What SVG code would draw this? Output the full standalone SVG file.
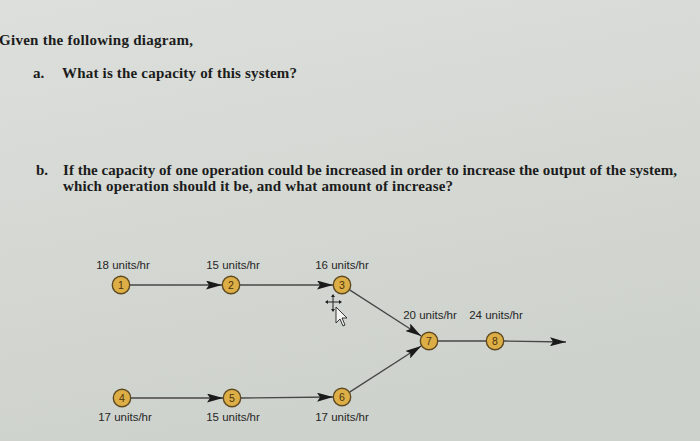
<svg xmlns="http://www.w3.org/2000/svg" width="700" height="441" viewBox="0 0 700 441">
<defs>
<linearGradient id="bg" x1="0" y1="0" x2="0.3" y2="1">
<stop offset="0" stop-color="#dcdfdb"/>
<stop offset="1" stop-color="#ced2cc"/>
</linearGradient>
<marker id="ah" viewBox="0 0 16 9" refX="16" refY="4.5" markerWidth="16" markerHeight="9" markerUnits="userSpaceOnUse" orient="auto">
<path d="M0,0 L16,4.5 L0,9 L3,4.5 z" fill="#1a1a1a"/>
</marker>
<style>
.q{font-family:"Liberation Serif","Times New Roman",serif;font-weight:bold;font-size:15px;fill:#1c1c1c}
.lbl{font-family:"Liberation Sans",Arial,sans-serif;font-size:11.5px;fill:#262626;text-anchor:middle}
.num{font-family:"Liberation Sans",Arial,sans-serif;font-size:10.5px;fill:#4a3510;text-anchor:middle}
.nd{fill:#dcae45;stroke:#5e4a22;stroke-width:1.4}
.ed{stroke:#474745;stroke-width:1.3;fill:none}
.ar{marker-end:url(#ah)}
</style>
</defs>
<rect width="700" height="441" fill="url(#bg)"/>
<g id="question">
<text class="q" x="-1" y="45" textLength="194" lengthAdjust="spacing">Given the following diagram,</text>
<text class="q" x="33" y="78">a.</text>
<text class="q" x="62" y="78" textLength="235" lengthAdjust="spacing">What is the capacity of this system?</text>
<text class="q" x="36" y="175">b.</text>
<text class="q" x="63" y="175" textLength="614" lengthAdjust="spacing">If the capacity of one operation could be increased in order to increase the output of the system,</text>
<text class="q" x="63" y="191" textLength="390" lengthAdjust="spacing">which operation should it be, and what amount of increase?</text>
</g>
<g id="connectors">
<line class="ed ar" x1="130" y1="285" x2="222" y2="285"/>
<line class="ed ar" x1="240" y1="285" x2="333" y2="285"/>
<line class="ed ar" x1="349.6" y1="289.9" x2="421.2" y2="336"/>
<line class="ed ar" x1="131" y1="398" x2="223" y2="398"/>
<line class="ed ar" x1="241" y1="398" x2="333" y2="397"/>
<line class="ed ar" x1="349.6" y1="392.1" x2="421.2" y2="346"/>
<line class="ed" x1="438" y1="341" x2="486" y2="341"/>
<line class="ed ar" x1="504" y1="341" x2="566" y2="342"/>
</g>
<g id="n1"><circle class="nd" cx="121" cy="285" r="8.7"/><text class="num" x="121" y="288.8">1</text></g>
<g id="n2"><circle class="nd" cx="231" cy="285" r="8.7"/><text class="num" x="231" y="288.8">2</text></g>
<g id="n3"><circle class="nd" cx="342" cy="285" r="8.7"/><text class="num" x="342" y="288.8">3</text></g>
<g id="n4"><circle class="nd" cx="122" cy="398" r="8.7"/><text class="num" x="122" y="401.8">4</text></g>
<g id="n5"><circle class="nd" cx="232" cy="398" r="8.7"/><text class="num" x="232" y="401.8">5</text></g>
<g id="n6"><circle class="nd" cx="342" cy="397" r="8.7"/><text class="num" x="342" y="400.8">6</text></g>
<g id="n7"><circle class="nd" cx="429" cy="341" r="8.7"/><text class="num" x="429" y="344.8">7</text></g>
<g id="n8"><circle class="nd" cx="495" cy="341" r="8.7"/><text class="num" x="495" y="344.8">8</text></g>
<g id="labels">
<text class="lbl" x="123" y="269">18 units/hr</text>
<text class="lbl" x="233" y="269">15 units/hr</text>
<text class="lbl" x="342" y="269">16 units/hr</text>
<text class="lbl" x="430" y="319">20 units/hr</text>
<text class="lbl" x="496" y="319">24 units/hr</text>
<text class="lbl" x="125" y="421">17 units/hr</text>
<text class="lbl" x="233" y="421">15 units/hr</text>
<text class="lbl" x="342" y="421">17 units/hr</text>
</g>
<g id="cursor">
<path d="M333,295 V311 M326,302 H341" stroke="#222" stroke-width="1"/>
<path d="M333,294 l-2,3 h4 z M333,312 l-2,-3 h4 z M325,302 l3,-2 v4 z M342,302 l-3,-2 v4 z" fill="#222"/>
<path d="M336,307 L336,323 L340,319 L343,326 L345,325 L342,318 L347,318 z" fill="#f4f4f2" stroke="#222" stroke-width="0.9"/>
</g>
</svg>
